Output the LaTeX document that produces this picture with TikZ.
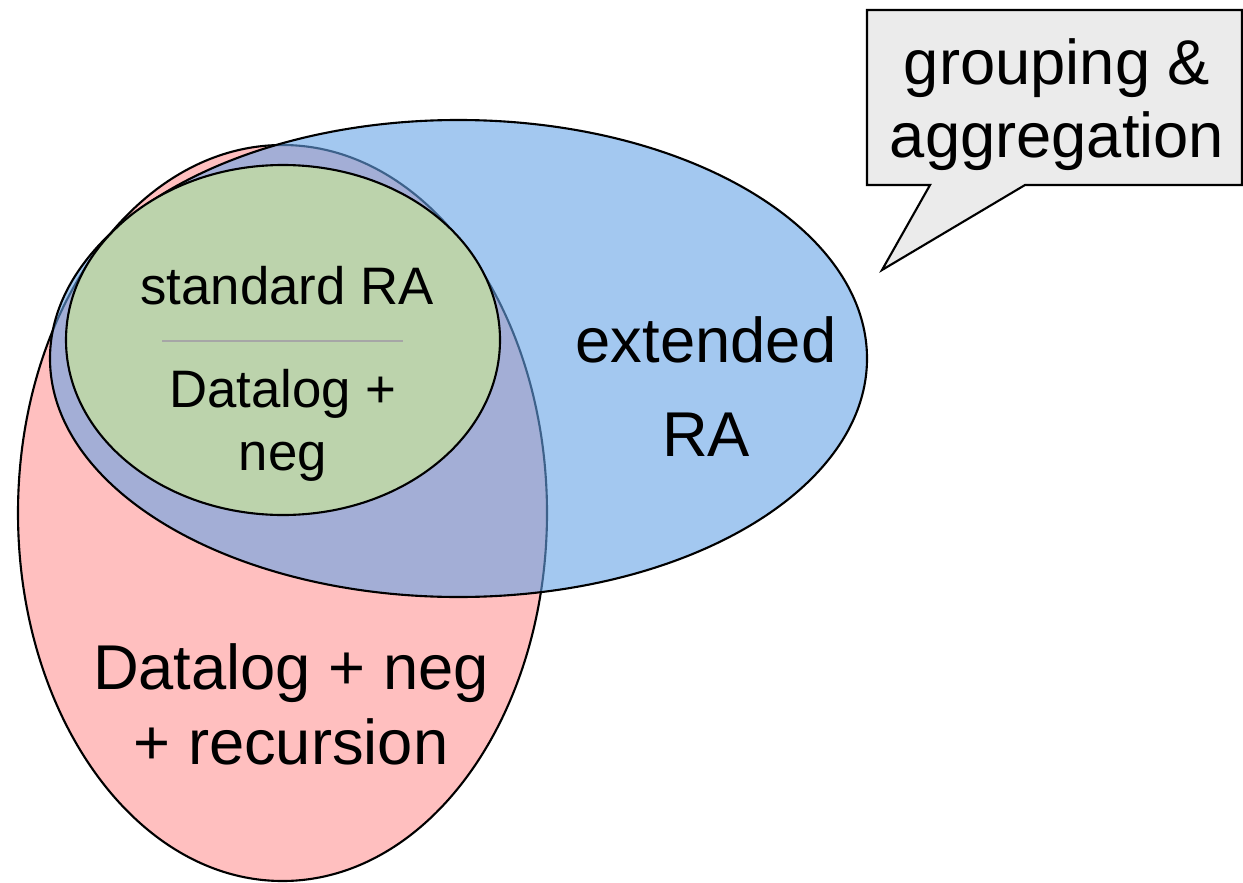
\documentclass[tikz,border=0pt]{standalone}
\usepackage{fontspec}
\setmainfont{Liberation Sans}
\definecolor{redset}{RGB}{255,191,191}
\definecolor{blueset}{RGB}{102,163,230}
\definecolor{greenset}{RGB}{188,211,172}
\definecolor{calloutgray}{RGB}{235,235,235}
\tikzset{
	settext/.style={align=center, inner sep=0pt, font=\fontsize{18}{21.3}\selectfont},
	innertext/.style={align=center, inner sep=0pt, font=\fontsize{15}{17.9}\selectfont}
}

\begin{document}
\begin{tikzpicture}[x=0.01cm,y=-0.01cm,line width=0.6pt]
		\useasboundingbox (0,0) rectangle (1243,882);
		\draw[fill=redset] (282.5,513) ellipse (264.5 and 368);
		\draw[fill=blueset,fill opacity=0.6] (458.5,358.5) ellipse (408.5 and 238.5);
		\draw[fill=greenset] (283,340) ellipse (217 and 175);
		\draw[gray!70,line width=0.5pt] (162,341) -- (403,341);
		\draw[fill=calloutgray] (867,10) -- (1242,10) -- (1242,185) -- (1025,185) -- (882,270) -- (930,185) -- (867,185) -- cycle;
		
		\node[innertext] (stdra) at (287,286) {standard RA};
		\node[innertext] (dlneg) at (283,425) {Datalog +\\neg};
		\node[settext,font=\fontsize{18}{26.7}\selectfont] (extra) at (706,387) {extended\\RA};
		\node[settext] (dlrec) at (291,704) {Datalog + neg\\+ recursion};
		\node[settext,font=\fontsize{18}{20.8}\selectfont] (grpagg) at (1057,105) {grouping \&\\aggregation};
		
		\end{tikzpicture}
\end{document}
